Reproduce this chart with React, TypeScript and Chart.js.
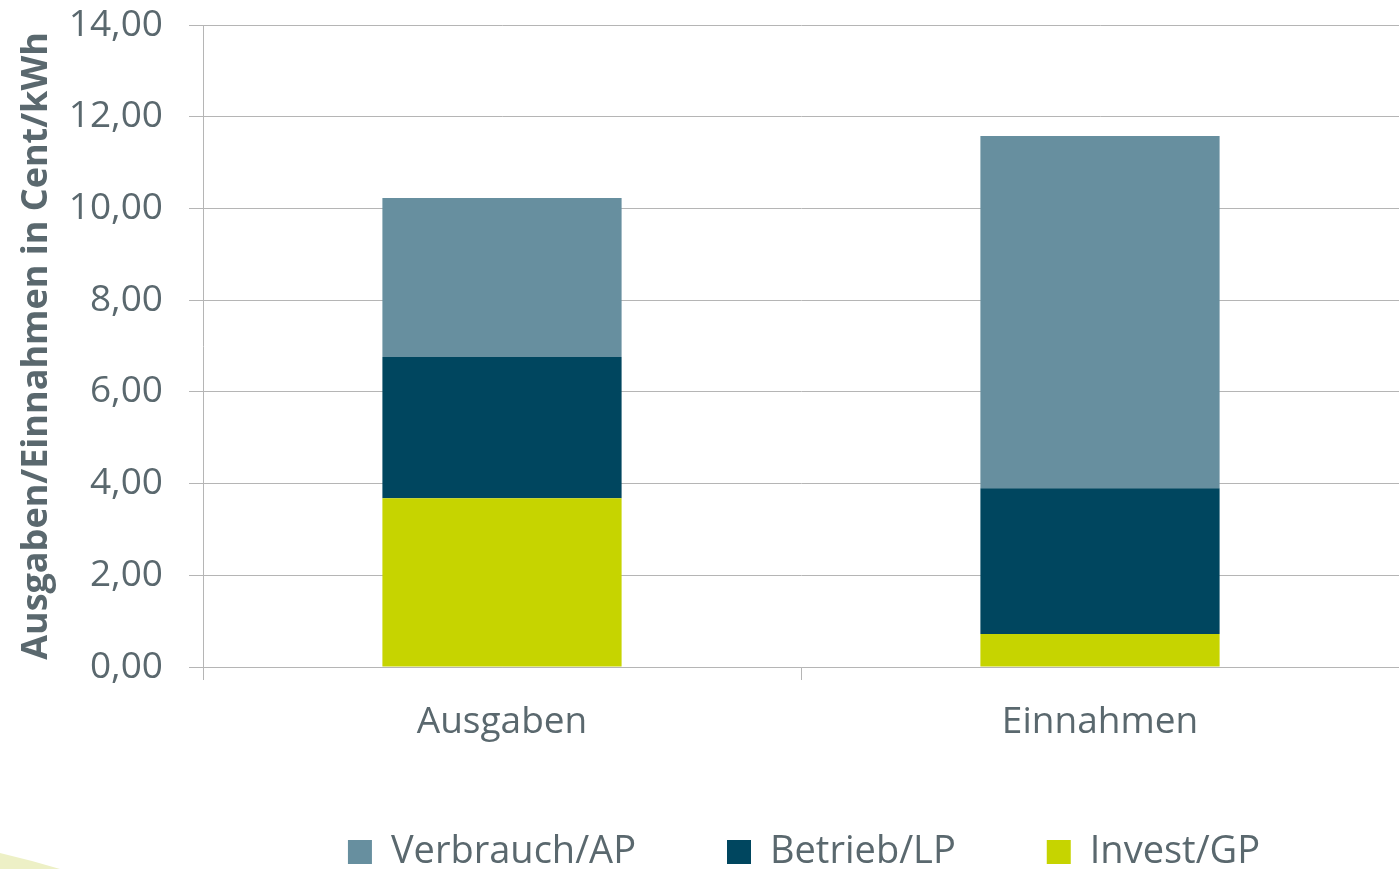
import React, { useEffect, useRef } from 'react';
import { Chart, registerables } from 'chart.js';

Chart.register(...registerables);

const categories = ['Ausgaben', 'Einnahmen'];
const verbrauchAP = [3.47, 7.68];
const betriebLP = [3.08, 3.18];
const investGP = [3.68, 0.72];
const seriesLabels = ['Verbrauch/AP', 'Betrieb/LP', 'Invest/GP'];
const seriesColors = ['#678f9f', '#00465f', '#c6d400'];
const yAxisTitle = 'Ausgaben/Einnahmen in Cent/kWh';
const yMin = 0;
const yMax = 14;
const yStep = 2;

const TEXT = '#5a686e';
const GRID = '#b5b5b5';
const FONT = "'Open Sans', sans-serif";

const decoPlugin = {
  id: 'deco',
  beforeDraw(chart: any) {
    const ctx = chart.ctx;
    const h = chart.height;
    ctx.save();
    ctx.fillStyle = '#edf0c6';
    ctx.beginPath();
    ctx.moveTo(0, h - 16);
    ctx.quadraticCurveTo(30, h - 9, 60, h);
    ctx.lineTo(0, h);
    ctx.closePath();
    ctx.fill();
    ctx.restore();
  },
};

// Legend is laid out with a small padding (so the x labels keep their room),
// then drawn with the wider item spacing of the reference.
const legendShift = {
  id: 'legendShift',
  afterLayout(chart: any) {
    const l = chart.legend;
    if (!l) return;
    try {
      l.options.labels.padding = 91;
    } catch (e) {
      /* ignore */
    }
    l.top -= 3;
    l.left += 82;
    l.right += 82;
  },
};

export default function App() {
  const ref = useRef<HTMLCanvasElement | null>(null);

  useEffect(() => {
    if (!ref.current) return;
    const chart = new Chart(ref.current, {
      type: 'bar',
      data: {
        labels: categories,
        datasets: [
          { label: seriesLabels[2], data: investGP, backgroundColor: seriesColors[2] },
          { label: seriesLabels[1], data: betriebLP, backgroundColor: seriesColors[1] },
          { label: seriesLabels[0], data: verbrauchAP, backgroundColor: seriesColors[0] },
        ],
      },
      options: {
        responsive: false,
        animation: false,
        devicePixelRatio: 1,
        layout: { padding: { top: 25, left: 0, right: 0, bottom: 0 } },
        datasets: { bar: { categoryPercentage: 1, barPercentage: 0.4 } },
        plugins: {
          tooltip: { enabled: false },
          legend: {
            position: 'bottom',
            reverse: true,
            labels: {
              boxWidth: 24,
              boxHeight: 24,
              padding: 76,
              color: TEXT,
              font: { family: FONT, size: 38 },
            },
          },
        },
        scales: {
          x: {
            stacked: true,
            offset: true,
            grid: {
              offset: true,
              drawOnChartArea: false,
              drawTicks: true,
              tickLength: 13,
              color: GRID,
            },
            border: { color: GRID },
            ticks: { color: TEXT, padding: 20, font: { family: FONT, size: 37 } },
            afterFit(scale: any) {
              scale.height = 78;
            },
          },
          y: {
            stacked: true,
            min: yMin,
            max: yMax,
            grid: { color: GRID, tickLength: 14, drawTicks: true },
            border: { color: GRID },
            ticks: {
              stepSize: yStep,
              color: TEXT,
              padding: 26,
              font: { family: FONT, size: 37 },
              callback: (v: any) => Number(v).toFixed(2).replace('.', ','),
            },
            title: {
              display: true,
              text: yAxisTitle,
              color: TEXT,
              padding: { top: 15, bottom: 0 },
              font: { family: FONT, size: 36, weight: 'bold' },
            },
            afterFit(scale: any) {
              scale.width = 203;
              scale.paddingTop = 0;
              scale.paddingBottom = 0;
            },
          },
        },
      },
      plugins: [decoPlugin, legendShift],
    } as any);
    return () => chart.destroy();
  }, []);

  return (
    <div style={{ position: 'absolute', left: 0, top: 0, width: 1399, height: 869, background: '#fff' }}>
      <canvas ref={ref} width={1399} height={869} style={{ width: 1399, height: 869, display: 'block' }} />
    </div>
  );
}
